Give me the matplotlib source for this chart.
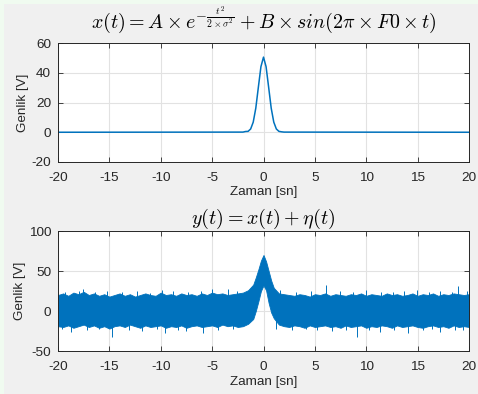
import numpy as np
import matplotlib
matplotlib.use("Agg")
import matplotlib.pyplot as plt
from matplotlib.patches import Rectangle

plt.rcParams["font.family"] = ["Liberation Sans", "DejaVu Sans"]
plt.rcParams["mathtext.fontset"] = "cm"
plt.rcParams["axes.unicode_minus"] = False

# --- top: x(t), values (peak + flat baseline)
top_t = [-20, -2.0, -1.75, -1.5, -1.25, -1.0, -0.75, -0.5, -0.25, 0.0,
         0.25, 0.5, 0.75, 1.0, 1.25, 1.5, 1.75, 2.0, 20]
top_v = [0, 0.1, 0.5, 0.6, 2.2, 6.8, 16.2, 30.3, 44.1, 50.5,
         44.1, 30.3, 16.2, 6.8, 2.2, 0.6, 0.3, 0.1, 0]

# --- bottom: y(t) = x(t) + noise, drawn as the envelope of the dense trace
env_t = [-20, -19.5, -19, -18.5, -18, -17.5, -17, -16.5, -16, -15.5,
         -15, -14.5, -14, -13.5, -13, -12.5, -12, -11.5, -11, -10.5,
         -10, -9.5, -9, -8.5, -8, -7.5, -7, -6.5, -6, -5.5,
         -5, -4.5, -4, -3.5, -3, -2.5, -2, -1.5, -1, -0.75,
         -0.5, -0.25, 0, 0.25, 0.5, 0.75, 1, 1.5, 2, 2.5,
         3, 3.5, 4, 4.5, 5, 5.5, 6, 6.5, 7, 7.5,
         8, 8.5, 9, 9.5, 10, 10.5, 11, 11.5, 12, 12.5,
         13, 13.5, 14, 14.5, 15, 15.5, 16, 16.5, 17, 17.5,
         18, 18.5, 19, 19.5, 20]
env_hi = [20, 22, 19, 23, 21, 24, 20, 22, 19, 21,
          18, 20, 22, 19, 21, 18, 20, 22, 20, 19,
          23, 20, 21, 19, 22, 20, 21, 19, 22, 20,
          23, 21, 22, 20, 21, 22, 23, 26, 33, 42,
          52, 63, 70, 62, 50, 38, 29, 22, 21, 20,
          19, 21, 20, 18, 21, 20, 22, 19, 21, 20,
          19, 21, 20, 22, 19, 21, 20, 19, 22, 20,
          21, 19, 20, 22, 19, 21, 20, 22, 19, 21,
          20, 22, 21, 20, 21]
env_lo = [-19, -20, -18, -21, -19, -17, -20, -18, -21, -19,
          -22, -19, -18, -20, -17, -19, -21, -18, -20, -19,
          -18, -21, -19, -20, -18, -21, -19, -18, -20, -19,
          -18, -20, -17, -19, -18, -20, -19, -16, -10, 0,
          12, 25, 32, 26, 10, -2, -9, -17, -19, -20,
          -18, -19, -21, -18, -20, -19, -18, -20, -19, -21,
          -18, -20, -19, -18, -21, -19, -20, -18, -19, -21,
          -18, -20, -19, -18, -20, -21, -19, -18, -20, -19,
          -21, -18, -20, -19, -20]

# larger single excursions seen on the edges of the band
spike_up_t = [-19.3, -18.0, -17.6, -16.4, -15.2, -13.8, -12.3, -11.0, -9.9, -8.8,
              -7.3, -6.1, -5.0, -3.5, -2.6, 1.6, 3.2, 4.6, 6.1, 7.4,
              8.7, 10.0, 11.4, 12.6, 13.7, 14.9, 16.1, 17.2, 18.3, 18.95, 19.8]
spike_up_v = [24, 25, 28, 24, 25, 24, 25, 23, 26, 25,
              24, 25, 27, 27, 25, 26, 24, 25, 32, 25,
              24, 26, 24, 24, 25, 26, 24, 25, 24, 31, 25]
spike_dn_t = [-19.6, -18.7, -17.2, -16.0, -14.7, -13.1, -11.8, -10.4, -9.6, -8.3,
              -7.5, -5.9, -4.4, -3.0, 1.2, 2.8, 4.1, 5.2, 6.7, 8.0,
              9.1, 10.3, 11.3, 12.7, 14.1, 15.5, 16.4, 17.2, 18.6, 19.4]
spike_dn_v = [-23, -26, -24, -23, -32, -24, -25, -23, -27, -24,
              -25, -27, -24, -23, -22, -24, -23, -24, -25, -24,
              -32, -24, -26, -24, -28, -24, -23, -26, -24, -24]

MBLUE = "#0072BD"
AXC = "#262626"
FS = 9.7

fig = plt.figure(figsize=(4.78, 3.94), dpi=100, facecolor="#F0FBF0")
fig.patches.append(Rectangle((4 / 478, 0), 1, 390 / 394, transform=fig.transFigure,
                             facecolor="#F0F0F0", edgecolor="none", zorder=-1))


def style_axes(ax, ylim, yticks):
    ax.set_xlim(-20, 20)
    ax.set_ylim(*ylim)
    ax.set_xticks(range(-20, 21, 5))
    ax.set_yticks(yticks)
    ax.grid(True, color="#E2E2E2", linewidth=0.8)
    ax.set_axisbelow(True)
    ax.tick_params(direction="in", length=3.5, width=0.6, colors=AXC,
                   labelsize=FS, top=True, right=True, pad=5)
    ax.tick_params(axis="x", pad=7)
    for s in ax.spines.values():
        s.set_color(AXC)
        s.set_linewidth(0.7)
    ax.set_xlabel("Zaman [sn]", fontsize=FS, color=AXC, labelpad=2)
    ax.set_ylabel("Genlik [V]", fontsize=FS, color=AXC, labelpad=2)


ax1 = fig.add_axes([58 / 478, 232 / 394, 411 / 478, 119 / 394])
ax1.plot(top_t, top_v, color=MBLUE, linewidth=1.1)
style_axes(ax1, (-20, 60), [-20, 0, 20, 40, 60])
ax1.set_title(r"$x(t) = A \times e^{-\frac{t^2}{2 \times \sigma^2}} + B \times sin(2\pi \times F0 \times t)$",
              fontsize=14.4, color="#000000", pad=11)

ax2 = fig.add_axes([58 / 478, 43 / 394, 411 / 478, 120 / 394])
ax2.fill_between(env_t, env_lo, env_hi, color=MBLUE, linewidth=0.6, edgecolor=MBLUE)
ax2.vlines(spike_up_t, 0, spike_up_v, color=MBLUE, linewidth=0.7)
ax2.vlines(spike_dn_t, spike_dn_v, 0, color=MBLUE, linewidth=0.7)
style_axes(ax2, (-50, 100), [-50, 0, 50, 100])
ax2.set_title(r"$y(t) = x(t) + \eta(t)$", fontsize=14.4, color="#000000", pad=5)

fig.savefig("out.png", dpi=100, facecolor=fig.get_facecolor())
